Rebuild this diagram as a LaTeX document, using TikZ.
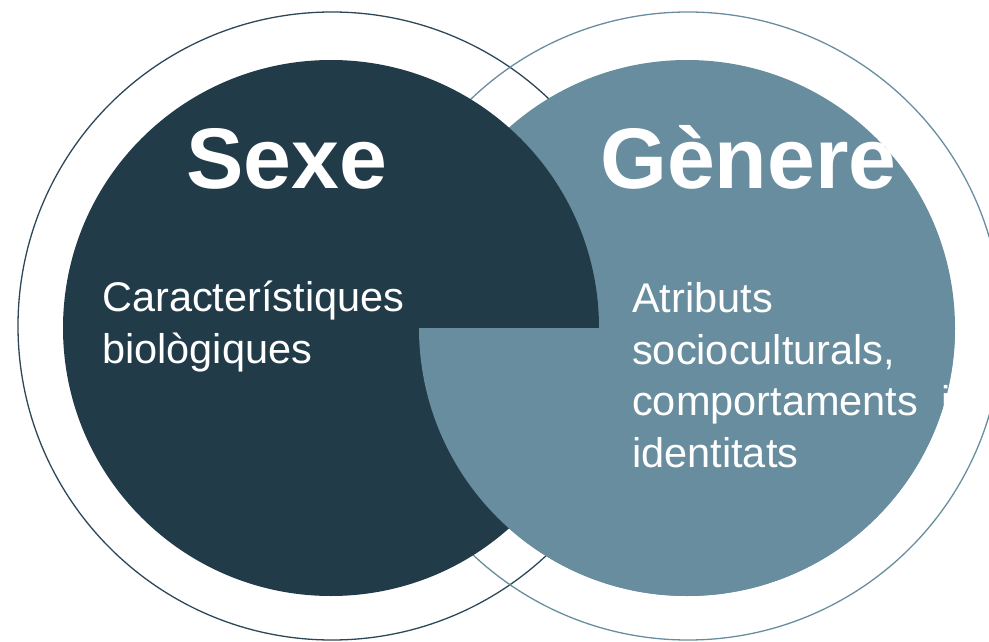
\documentclass[tikz,border=0pt]{standalone}
\usepackage{fontspec}
\setmainfont{Liberation Sans}
\usetikzlibrary{positioning}

\definecolor{sexedark}{HTML}{213B49}
\definecolor{sexeline}{HTML}{2C4757}
\definecolor{genereblue}{HTML}{688D9F}

\begin{document}
\begin{tikzpicture}[
  x = 1pt, y = -1pt,
  ring/.style = {line width=1.3pt},
  disc/.style = {radius=268pt},
  title/.style = {text=white, inner sep=0pt, anchor=base west,
    font=\fontsize{86}{90}\selectfont\bfseries},
  body/.style = {text=white, inner sep=0pt, anchor=base west, align=left,
    font=\fontsize{41.5}{51.5}\selectfont},
  ]
  \useasboundingbox (0,0) rectangle (989,642);
  \clip (0,0) rectangle (989,642);

  \coordinate (os) at (332,326);
  \coordinate (og) at (688,326);
  \coordinate (cs) at (331,328);
  \coordinate (cg) at (687,328);

  % outer rings
  \draw[ring, sexeline] (os) circle[radius=314pt];
  \draw[ring, genereblue] (og) circle[radius=314pt];

  % discs, lower half of the overlap in blue
  \fill[genereblue] (cg) circle[disc];
  \fill[sexedark] (cs) circle[disc];
  \begin{scope}
    \clip (0,328) rectangle (989,642);
    \fill[genereblue] (cg) circle[disc];
  \end{scope}

  % base of a multi-line node is its last line
  \node[title] (sexe) at (186,188) {Sexe};
  \node[body] (bio) at (102,363) {Característiques\\biològiques};

  \begin{scope}
    \clip (cg) circle[disc];
    \node[title] (genere) at (600,188) {Gènere};
    \node[body] (socio) at (632,467)
      {Atributs\\socioculturals,\\comportaments\ \ i\\identitats};
  \end{scope}
\end{tikzpicture}
\end{document}
